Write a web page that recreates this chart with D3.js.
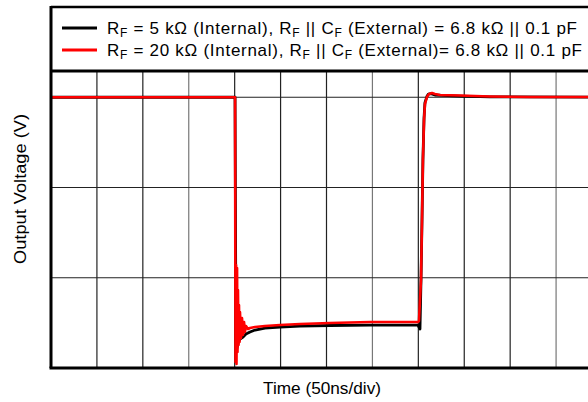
<html>
<script src="https://d3js.org/d3.v7.min.js"></script>
<style>
  body { margin: 0; background: #fff; }
  text { font-family: "Liberation Sans", Arial, sans-serif; fill: #000; }
</style>
<body>
<svg width="588" height="402"></svg>
<script>
// time in ns (50 ns/div), output in scope divisions
var t5k  = [0, 200.4, 201.4, 202.5, 203.6, 204.6, 205.8, 209.1, 212.3, 216.7, 222.2, 233, 249.4, 271.1, 303.8, 347.4, 399.6, 400.7, 401.8, 402.9, 404, 405, 406.2, 407.2, 409.4, 411, 413.6, 418.1, 425.5, 445, 478, 600];
var v5k  = [3.0, 3.0, 0.31, 0.22, 0.27, 0.30, 0.32, 0.343, 0.377, 0.399, 0.421, 0.443, 0.454, 0.465, 0.471, 0.476, 0.476, 0.454, 0.432, 0.975, 1.64, 2.305, 2.77, 2.94, 3.01, 3.035, 3.04, 3.025, 3.02, 3.012, 3.005, 3.0];

var t20k = [0, 199.3, 200.4, 200.9, 201.5, 202, 202.6, 203.1, 203.6, 204.2, 204.7, 205.3, 205.8, 206.9, 208, 209.1, 210.2, 211.2, 212.3, 214.5, 216.7, 222.2, 233, 249.4, 271.1, 303.8, 347.4, 399.6, 400.7, 402.9, 404, 405, 406.2, 407.2, 409.4, 411.6, 414.9, 418.1, 423.6, 445.4, 478, 521.6, 600];
var v20k = [3.0, 3.0, 3.0, 0.066, 1.14, 0.044, 1.108, 0.177, 0.864, 0.255, 0.698, 0.288, 0.62, 0.332, 0.554, 0.366, 0.51, 0.399, 0.465, 0.432, 0.443, 0.454, 0.465, 0.476, 0.488, 0.499, 0.51, 0.51, 0.521, 0.975, 1.64, 2.305, 2.748, 2.925, 3.003, 3.036, 3.047, 3.036, 3.025, 3.019, 3.008, 3.003, 3.003];

var xDivs = [1, 2, 3, 4, 5, 6, 7, 8, 9, 10, 11];
var yDivs = [1, 2, 3];
var legendRf = ["5", "20"];
var legendTail = [" (External) = 6.8 k\u03A9 || 0.1 pF", " (External)= 6.8 k\u03A9 || 0.1 pF"];

var svg = d3.select("svg");
var pl = 51, pr = 602, pt = 7, pb = 368;

var x = d3.scaleLinear().domain([0, 600]).range([pl, pr]);
var y = d3.scaleLinear().domain([0, 4]).range([pb, pt]);

// grid
svg.append("g").selectAll("line").data(xDivs).enter().append("line")
  .attr("x1", function(d){ return x(d * 50); }).attr("x2", function(d){ return x(d * 50); })
  .attr("y1", pt).attr("y2", pb)
  .attr("stroke", function(d){ return d % 4 == 3 ? "#777" : "#222"; }).attr("stroke-width", 1.2);
svg.append("g").selectAll("line").data(yDivs).enter().append("line")
  .attr("x1", pl).attr("x2", pr)
  .attr("y1", function(d){ return y(d); }).attr("y2", function(d){ return y(d); })
  .attr("stroke", "#222").attr("stroke-width", 1.2);

// legend box
svg.append("rect").attr("x", pl).attr("y", pt).attr("width", pr - pl).attr("height", 64).attr("fill", "#fff");

var line = d3.line().x(function(d){ return x(d[0]); }).y(function(d){ return y(d[1]); });
svg.append("path").datum(d3.zip(t5k, v5k)).attr("d", line)
  .attr("fill", "none").attr("stroke", "#000").attr("stroke-width", 2.8).attr("stroke-linejoin", "round");
svg.append("path").datum(d3.zip(t20k, v20k)).attr("d", line)
  .attr("fill", "none").attr("stroke", "#f00").attr("stroke-width", 2.6).attr("stroke-linejoin", "round");

// frame
svg.append("line").attr("x1", pl).attr("x2", pr + 2).attr("y1", pt).attr("y2", pt).attr("stroke", "#000").attr("stroke-width", 2.5);
svg.append("line").attr("x1", pl).attr("x2", pr + 2).attr("y1", 71).attr("y2", 71).attr("stroke", "#000").attr("stroke-width", 3);
svg.append("line").attr("x1", pl - 1.5).attr("x2", pr + 2).attr("y1", pb).attr("y2", pb).attr("stroke", "#000").attr("stroke-width", 3);
svg.append("line").attr("x1", pl).attr("x2", pl).attr("y1", pt - 1).attr("y2", pb).attr("stroke", "#000").attr("stroke-width", 3);
svg.append("line").attr("x1", pr).attr("x2", pr).attr("y1", pt - 1).attr("y2", pb).attr("stroke", "#000").attr("stroke-width", 3);

// legend
var colors = ["#000", "#f00"];
var widths = [470, 475];
legendRf.forEach(function(rf, i) {
  var ly = 28 + i * 22;
  svg.append("line").attr("x1", 62).attr("x2", 97).attr("y1", ly).attr("y2", ly).attr("stroke", colors[i]).attr("stroke-width", 3);
  var t = svg.append("text").attr("x", 107).attr("y", ly + 6).style("font-size", "17px")
    .attr("textLength", widths[i]).attr("lengthAdjust", "spacing");
  t.append("tspan").text("R");
  t.append("tspan").text("F").style("font-size", "12px").attr("dy", 3);
  t.append("tspan").text(" = " + rf + " k\u03A9 (Internal), R").attr("dy", -3);
  t.append("tspan").text("F").style("font-size", "12px").attr("dy", 3);
  t.append("tspan").text(" || C").attr("dy", -3);
  t.append("tspan").text("F").style("font-size", "12px").attr("dy", 3);
  t.append("tspan").text(legendTail[i]).attr("dy", -3);
});

// axis titles
svg.append("text").attr("transform", "translate(26,189) rotate(-90)").attr("text-anchor", "middle")
  .style("font-size", "17px").attr("textLength", 150).attr("lengthAdjust", "spacingAndGlyphs").text("Output Voltage (V)");
svg.append("text").attr("x", 322).attr("y", 394).attr("text-anchor", "middle")
  .style("font-size", "17px").attr("textLength", 118).attr("lengthAdjust", "spacingAndGlyphs").text("Time (50ns/div)");
</script>
</body>
</html>
